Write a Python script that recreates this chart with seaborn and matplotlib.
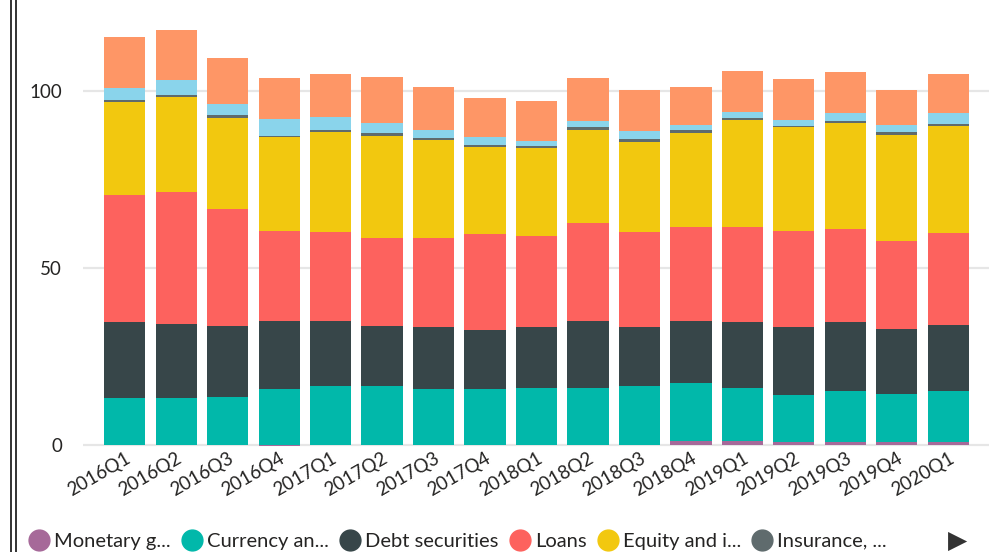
import numpy as np
import pandas as pd
import matplotlib
matplotlib.use("Agg")
import matplotlib.pyplot as plt
from matplotlib.lines import Line2D
import seaborn as sns

quarters = ['2016Q1', '2016Q2', '2016Q3', '2016Q4', '2017Q1', '2017Q2', '2017Q3', '2017Q4',
            '2018Q1', '2018Q2', '2018Q3', '2018Q4', '2019Q1', '2019Q2', '2019Q3', '2019Q4', '2020Q1']

monetary_gold = [0, 0, 0, -0.2, 0, 0, 0, 0, 0, 0, 0, 1.0, 1.0, 0.9, 0.9, 0.9, 0.9]
currency_deposits = [13.2, 13.2, 13.5, 15.7, 16.6, 16.6, 15.9, 15.9, 16.2, 16.1, 16.6, 16.4, 15.0, 13.1, 14.3, 13.4, 14.3]
debt_securities = [21.5, 20.9, 20.1, 19.3, 18.4, 17.0, 17.3, 16.7, 17.0, 18.9, 16.7, 17.6, 18.7, 19.3, 19.5, 18.4, 18.7]
loans = [36.0, 37.4, 33.1, 25.5, 25.2, 24.9, 25.2, 27.0, 25.8, 27.7, 26.9, 26.6, 26.9, 27.2, 26.3, 24.9, 26.0]
equity = [26.1, 26.9, 25.8, 26.4, 28.3, 28.9, 27.8, 24.6, 24.9, 26.4, 25.5, 26.6, 30.3, 29.2, 30.1, 30.1, 30.1]
insurance = [0.75, 0.55, 0.6, 0.5, 0.6, 0.6, 0.6, 0.6, 0.6, 0.6, 0.8, 0.9, 0.6, 0.5, 0.5, 0.8, 0.8]
derivatives = [3.4, 4.1, 3.3, 4.6, 3.5, 3.1, 2.3, 2.3, 1.4, 1.9, 2.1, 1.4, 1.7, 1.7, 2.3, 2.0, 2.9]
other_accounts = [14.2, 14.1, 13.0, 11.8, 12.1, 13.0, 12.1, 11.0, 11.3, 12.2, 11.8, 10.5, 11.6, 11.6, 11.6, 9.9, 11.0]

series_names = ['Monetary gold', 'Currency and deposits', 'Debt securities', 'Loans',
                'Equity and investment fund shares', 'Insurance, pension and standardised guarantee schemes',
                'Financial derivatives', 'Other accounts receivable']
legend_labels = ['Monetary g...', 'Currency an...', 'Debt securities', 'Loans', 'Equity and i...', 'Insurance, ...']
colors = ['#A66999', '#01B8AA', '#374649', '#FD625E', '#F2C80F', '#5F6B6D', '#8AD4EB', '#FE9666']

df = pd.DataFrame({'quarter': quarters, 'Monetary gold': monetary_gold,
                   'Currency and deposits': currency_deposits, 'Debt securities': debt_securities,
                   'Loans': loans, 'Equity and investment fund shares': equity,
                   'Insurance, pension and standardised guarantee schemes': insurance,
                   'Financial derivatives': derivatives, 'Other accounts receivable': other_accounts})

sns.set_style('white')
plt.rcParams['font.family'] = ['Lato', 'DejaVu Sans']
txt = '#252423'

fig = plt.figure(figsize=(9.89, 5.52), dpi=100)
ax = fig.add_axes([83 / 989, 105 / 552, 906 / 989, 437 / 552])

pos_bottom = np.zeros(len(quarters))
neg_bottom = np.zeros(len(quarters))
for name, c in zip(series_names, colors):
    vals = df[name].to_numpy(dtype=float)
    base = np.where(vals >= 0, pos_bottom, neg_bottom)
    sns.barplot(x=df['quarter'], y=vals, bottom=base, color=c, saturation=1,
                width=0.8, linewidth=0, ax=ax, zorder=3)
    pos_bottom = pos_bottom + np.clip(vals, 0, None)
    neg_bottom = neg_bottom + np.clip(vals, None, 0)

ax.set_xlim(-0.81, 16.79)
ax.set_ylim(-0.6, 122.9)
ax.set_yticks([0, 50, 100])
ax.yaxis.grid(True, color='#E6E6E6', linewidth=1.6, zorder=0)
ax.set_axisbelow(True)
for s in ax.spines.values():
    s.set_visible(False)
ax.set_xlabel('')
ax.set_ylabel('')
ax.tick_params(axis='y', length=0, pad=15, labelsize=13.5, labelcolor=txt)
ax.tick_params(axis='x', length=0, pad=2, labelsize=13.5, labelcolor=txt)
plt.setp(ax.get_xticklabels(), rotation=30, ha='right', rotation_mode='anchor')

# double border line on the left
for xp in (11, 16):
    fig.add_artist(Line2D([xp / 989, xp / 989], [0, 1], color='#333333', linewidth=1.4))

handles = [Line2D([0], [0], marker='o', linestyle='', markersize=15,
                  markerfacecolor=c, markeredgecolor=c) for c in colors[:6]]
fig.legend(handles, legend_labels, loc='center left', bbox_to_anchor=(29 / 989, 11 / 552),
           ncol=6, frameon=False, fontsize=14.5, handletextpad=0.25, columnspacing=0.55,
           handlelength=1.0, borderaxespad=0, borderpad=0, labelcolor=txt)
fig.text(958 / 989, 11 / 552, '\u25B6', fontsize=18, color='#333333', va='center',
         ha='center', family=['DejaVu Sans'])

fig.savefig('out.png', dpi=100)
